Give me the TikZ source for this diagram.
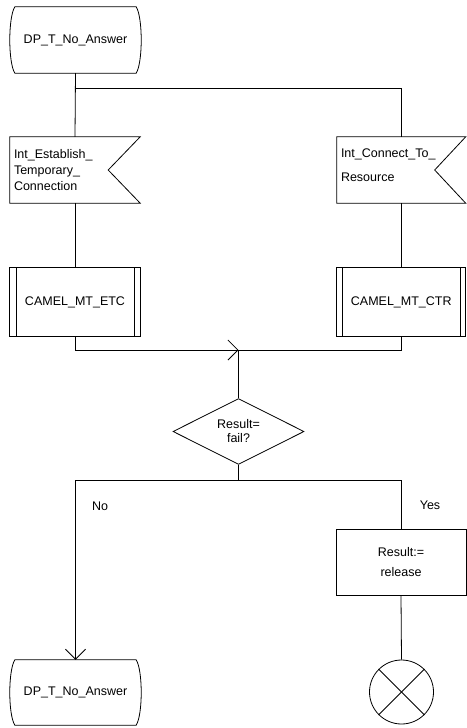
\documentclass[tikz,border=0pt]{standalone}
\usepackage{fontspec}
\setmainfont{Liberation Sans}
\usetikzlibrary{shapes.geometric,arrows.meta,calc}
\newcommand{\stateoutline}[1]{%
  \draw[line] ($(#1.north west)+(5,0)$) -- ($(#1.north east)+(-5,0)$)
    .. controls ($(#1.north east)+(1.7,11)$) and ($(#1.south east)+(1.7,-11)$) .. ($(#1.south east)+(-5,0)$)
    -- ($(#1.south west)+(5,0)$)
    .. controls ($(#1.south west)+(-1.7,-11)$) and ($(#1.north west)+(-1.7,11)$) .. cycle;}
\newcommand{\signaloutline}[2]{%
  \draw[line] (#1.north west) -- (#1.north east) -- ($(#1.east)+(-#2,0)$) -- (#1.south east) -- (#1.south west) -- cycle;}
\newcommand{\procoutline}[3]{%
  \draw[line] (#1.north west) rectangle (#1.south east);
  \draw[line] ($(#1.north west)+(#2,0)$) -- ($(#1.south west)+(#2,0)$);
  \draw[line] ($(#1.north east)+(-#3,0)$) -- ($(#1.south east)+(-#3,0)$);}
\begin{document}
\begin{tikzpicture}[x=1pt,y=-1pt,
  every node/.style={font=\fontsize{12.5}{16}\selectfont},
  line/.style={draw=black, line width=0.8pt},
  conn/.style={line},
  arr/.style={line, -{Straight Barb[length=10pt,width=20pt]}},
  statebox/.style={draw=none, minimum width=131pt, minimum height=66pt, inner sep=0pt},
  signalbox/.style={draw=none, minimum height=66pt, inner sep=4pt, align=left},
  procbox/.style={draw=none, minimum height=68pt, inner sep=0pt},
  taskbox/.style={line, minimum width=130pt, minimum height=66pt, inner sep=0pt, align=center},
  decbox/.style={line, diamond, minimum width=131pt, minimum height=65pt, inner sep=0pt, align=center},
  endcircle/.style={line, circle, minimum size=64pt, inner sep=0pt},
  lbl/.style={inner sep=0pt}]
\fill[white] (0,0) rectangle (466,728);
\useasboundingbox (0,0) rectangle (466,728);

% nodes
\node[statebox] (s1) at (75.5,40) {DP\_T\_No\_Answer};
\node[signalbox, text width=122pt] (sig1) at (75,170) {Int\_Establish\_\\Temporary\_\\Connection};
\node[signalbox, text width=120.5pt] (sig2) at (401.25,170) {Int\_Connect\_To\_\\[8pt]Resource\\[-7pt]\mbox{}};
\node[procbox, minimum width=130pt] (p1) at (75,302) {CAMEL\_MT\_ETC};
\node[procbox, minimum width=128.5pt] (p2) at (401.25,302) {CAMEL\_MT\_CTR};
\node[decbox] (dec) at (238.5,431.5) {Result=\\[-2pt]fail?};
\node[taskbox] (rel) at (401,562) {Result:=\\[4pt]release};
\node[endcircle] (end) at (401.5,692) {};
\node[statebox, minimum height=65pt] (s2) at (75.5,692.5) {DP\_T\_No\_Answer};
\node[lbl] (no) at (100,506) {No};
\node[lbl] (yes) at (430,505) {Yes};

% outlines
\stateoutline{s1}
\stateoutline{s2}
\signaloutline{sig1}{32}
\signaloutline{sig2}{31}
\procoutline{p1}{7}{6}
\procoutline{p2}{6}{5}
\draw[line] (end.45) -- (end.225);
\draw[line] (end.135) -- (end.315);

% junctions
\coordinate (b1) at ($(s1.south)+(0,15)$);
\coordinate (j1) at (238.5,350);
\coordinate (j2) at (238.5,480);

% connectors
\draw[conn] (s1.south) -- (sig1.north);
\draw[conn] (b1) -| (sig2.north);
\draw[conn] (sig1.south) -- (p1.north);
\draw[conn] (sig2.south) -- (p2.north);
\draw[arr] (p1.south) |- (j1);
\draw[conn] (p2.south) |- (j1);
\draw[conn] (j1) -- (dec.north);
\draw[conn] (dec.south) -- (j2);
\draw[arr] (j2) -| (s2.north);
\draw[conn] (j2) -| (rel.north);
\draw[conn] (rel.south) -- (end.north);
\end{tikzpicture}
\end{document}
